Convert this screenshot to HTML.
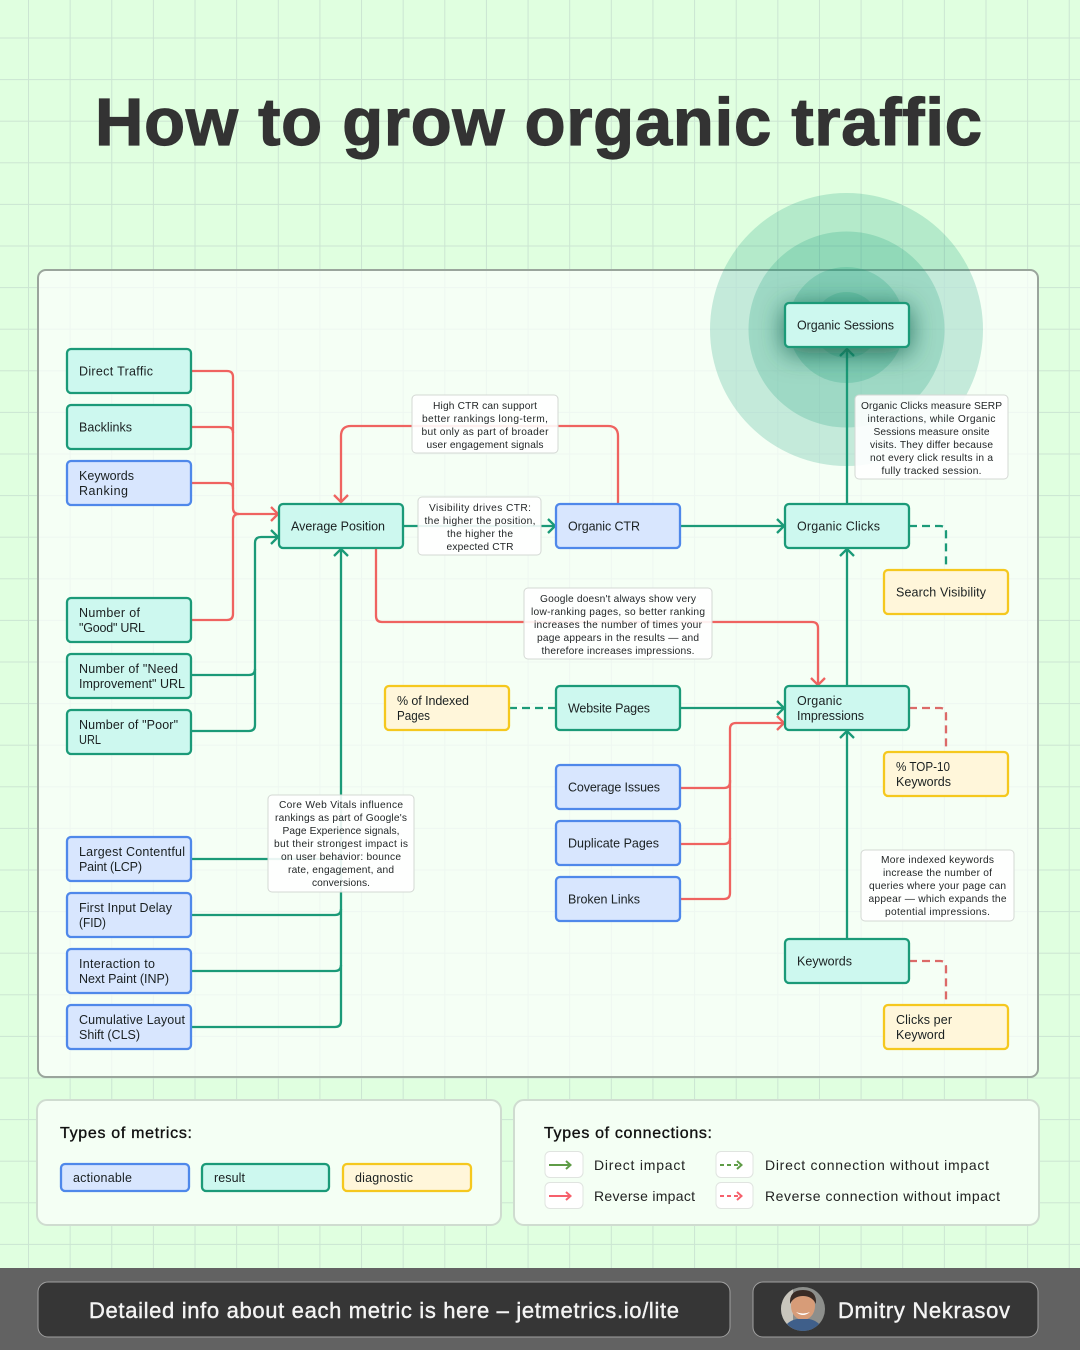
<!DOCTYPE html>
<html><head><meta charset="utf-8"><title>How to grow organic traffic</title>
<style>
html,body{margin:0;padding:0;background:#e0ffe0}
svg{display:block}
text{font-family:"Liberation Sans",sans-serif;fill:#1a2021;font-size:12.5px}
.n text{font-size:12.5px}
.t text{font-size:10.2px;text-anchor:middle;fill:#1f2324}
.a rect{fill:#d8e6fe;stroke:#4f88ea;stroke-width:2.3}
.r rect{fill:#cdf8ef;stroke:#1b9a78;stroke-width:2.3}
.d rect{fill:#fff6da;stroke:#f5c81e;stroke-width:2.3}
.t rect{fill:rgba(255,255,255,.9);stroke:#d4d8d4;stroke-width:1}
.c path{fill:none;stroke-width:2.3;stroke-linecap:butt;stroke-linejoin:round}
.g path{stroke:#1b9a78}.p path{stroke:#ef6360}
.dash{stroke-dasharray:8 5}
.h{font-size:16px;stroke:#111;stroke-width:.35px;fill:#111}
.l{font-size:14px;fill:#222}
</style></head><body>
<svg width="1080" height="1350" viewBox="0 0 1080 1350" xmlns="http://www.w3.org/2000/svg">
<defs>
<pattern id="grid" x="28" y="37.5" width="41.63" height="41.6" patternUnits="userSpaceOnUse">
<rect x="0" y="0" width="1" height="41.6" fill="#cbe5d2"/><rect x="0" y="0" width="41.63" height="1" fill="#cbe5d2"/>
</pattern>
<filter id="sh" x="-60%" y="-120%" width="220%" height="340%"><feDropShadow dx="0" dy="5" stdDeviation="13" flood-color="#0a4f3c" flood-opacity=".75"/></filter>
<clipPath id="av"><circle cx="803" cy="1309" r="22"/></clipPath>
</defs>
<rect width="1080" height="1350" fill="#e0ffe0"/>
<rect width="1080" height="1350" fill="url(#grid)"/>

<text x="95" y="145" textLength="887" style="font-size:67px;font-weight:bold;fill:#333;stroke:#333;stroke-width:1.2px">How to grow organic traffic</text>

<rect x="38" y="270" width="1000" height="807" rx="8" fill="rgba(255,255,255,.68)" stroke="#9aa59c" stroke-width="2"/>

<g fill="#16a07c" fill-opacity=".22">
<circle cx="846.500" cy="329.500" r="136.500"/><circle cx="846.500" cy="329.500" r="98"/><circle cx="846.500" cy="325" r="58"/><circle cx="846.500" cy="325" r="33"/>
</g>

<!-- connectors -->
<g class="c p">
<path d="M191 371H227Q233 371 233 377V508Q233 514 239 514H278"/>
<path d="M191 427H227Q233 427 233 433"/>
<path d="M191 483H227Q233 483 233 489"/>
<path d="M191 620H227Q233 620 233 614V520Q233 514 239 514"/>
<path d="M271 507L278 514L271 521"/>
<path d="M618 504V436Q618 426 608 426H351Q341 426 341 436V502"/>
<path d="M334 495L341 502L348 495"/>
<path d="M376 548V616Q376 622 382 622H812Q818 622 818 628V685"/>
<path d="M811 678L818 685L825 678"/>
<path d="M680 788H724Q730 788 730 782V729Q730 723 736 723H784"/>
<path d="M680 844H724Q730 844 730 838"/>
<path d="M680 899H724Q730 899 730 893V780"/>
<path d="M777 716L784 723L777 730"/>
<path class="dash" d="M909 708H940Q946 708 946 714V752" style="stroke:#dc6a68"/>
<path class="dash" d="M909 961H940Q946 961 946 967V1005" style="stroke:#dc6a68"/>
</g>
<g class="c g">
<path d="M191 675H249Q255 675 255 669"/>
<path d="M191 731H249Q255 731 255 725V543Q255 537 261 537H278"/>
<path d="M271 530L278 537L271 544"/>
<path d="M341 549V1021Q341 1027 335 1027H191"/>
<path d="M334 556L341 549L348 556"/>
<path d="M191 859H341"/>
<path d="M191 915H335Q341 915 341 909"/>
<path d="M191 971H335Q341 971 341 965"/>
<path d="M403 526H555"/><path d="M548 519L555 526L548 533"/>
<path d="M680 526H784"/><path d="M777 519L784 526L777 533"/>
<path d="M847 504V349"/><path d="M840 356L847 349L854 356"/>
<path d="M847 686V549"/><path d="M840 556L847 549L854 556"/>
<path d="M847 939V731"/><path d="M840 738L847 731L854 738"/>
<path d="M680 708H784"/><path d="M777 701L784 708L777 715"/>
<path class="dash" d="M509 708H555"/>
<path class="dash" d="M909 526H940Q946 526 946 532V570"/>
</g>

<!-- notes -->
<g class="t">
<rect x="412" y="395" width="146" height="58" rx="4"/>
<text x="485" y="409" textLength="104">High CTR can support</text>
<text x="485" y="422" textLength="126">better rankings long-term,</text>
<text x="485" y="435" textLength="127">but only as part of broader</text>
<text x="485" y="448" textLength="117">user engagement signals</text>

<rect x="418" y="497" width="123" height="58" rx="4"/>
<text x="480" y="511" textLength="102">Visibility drives CTR:</text>
<text x="480" y="524" textLength="111">the higher the position,</text>
<text x="480" y="537" textLength="66">the higher the</text>
<text x="480" y="550" textLength="67">expected CTR</text>

<rect x="524" y="588" width="188" height="71" rx="4"/>
<text x="618" y="602" textLength="156">Google doesn't always show very</text>
<text x="618" y="615" textLength="174">low-ranking pages, so better ranking</text>
<text x="618" y="628" textLength="168">increases the number of times your</text>
<text x="618" y="641" textLength="162">page appears in the results — and</text>
<text x="618" y="654" textLength="153">therefore increases impressions.</text>

<rect x="268" y="795" width="146" height="97" rx="4"/>
<text x="341" y="808" textLength="124">Core Web Vitals influence</text>
<text x="341" y="821" textLength="132">rankings as part of Google's</text>
<text x="341" y="834" textLength="117">Page Experience signals,</text>
<text x="341" y="847" textLength="134">but their strongest impact is</text>
<text x="341" y="860" textLength="120">on user behavior: bounce</text>
<text x="341" y="873" textLength="106">rate, engagement, and</text>
<text x="341" y="886" textLength="58">conversions.</text>

<rect x="855" y="395" width="153" height="84" rx="4"/>
<text x="931.500" y="409" textLength="141">Organic Clicks measure SERP</text>
<text x="931.500" y="422" textLength="128">interactions, while Organic</text>
<text x="931.500" y="435" textLength="116">Sessions measure onsite</text>
<text x="931.500" y="448" textLength="123">visits. They differ because</text>
<text x="931.500" y="461" textLength="123">not every click results in a</text>
<text x="931.500" y="474" textLength="100">fully tracked session.</text>

<rect x="861" y="850" width="153" height="71" rx="4"/>
<text x="937.500" y="863" textLength="113">More indexed keywords</text>
<text x="937.500" y="876" textLength="109">increase the number of</text>
<text x="937.500" y="889" textLength="137">queries where your page can</text>
<text x="937.500" y="902" textLength="138">appear — which expands the</text>
<text x="937.500" y="915" textLength="105">potential impressions.</text>
</g>

<!-- nodes -->
<g class="n">
<g class="r"><rect x="67" y="349" width="124" height="44" rx="4"/><text x="79" y="375.500" textLength="74">Direct Traffic</text></g>
<g class="r"><rect x="67" y="405" width="124" height="44" rx="4"/><text x="79" y="431.500" textLength="53">Backlinks</text></g>
<g class="a"><rect x="67" y="461" width="124" height="44" rx="4"/><text x="79" y="480" textLength="55">Keywords</text><text x="79" y="495" textLength="49">Ranking</text></g>
<g class="r"><rect x="67" y="598" width="124" height="44" rx="4"/><text x="79" y="617" textLength="61">Number of</text><text x="79" y="632" textLength="66">"Good" URL</text></g>
<g class="r"><rect x="67" y="654" width="124" height="44" rx="4"/><text x="79" y="673" textLength="99">Number of "Need</text><text x="79" y="688" textLength="106">Improvement" URL</text></g>
<g class="r"><rect x="67" y="710" width="124" height="44" rx="4"/><text x="79" y="729" textLength="99">Number of "Poor"</text><text x="79" y="744" textLength="22" lengthAdjust="spacingAndGlyphs">URL</text></g>
<g class="a"><rect x="67" y="837" width="124" height="44" rx="4"/><text x="79" y="856" textLength="106">Largest Contentful</text><text x="79" y="871" textLength="63">Paint (LCP)</text></g>
<g class="a"><rect x="67" y="893" width="124" height="44" rx="4"/><text x="79" y="912" textLength="93">First Input Delay</text><text x="79" y="927" textLength="27" lengthAdjust="spacingAndGlyphs">(FID)</text></g>
<g class="a"><rect x="67" y="949" width="124" height="44" rx="4"/><text x="79" y="968" textLength="76">Interaction to</text><text x="79" y="983" textLength="90">Next Paint (INP)</text></g>
<g class="a"><rect x="67" y="1005" width="124" height="44" rx="4"/><text x="79" y="1024" textLength="106">Cumulative Layout</text><text x="79" y="1039" textLength="61">Shift (CLS)</text></g>

<g class="r"><rect x="279" y="504" width="124" height="44" rx="4"/><text x="291" y="530.500" textLength="94">Average Position</text></g>
<g class="a"><rect x="556" y="504" width="124" height="44" rx="4"/><text x="568" y="530.500" textLength="72">Organic CTR</text></g>
<g class="r"><rect x="785" y="504" width="124" height="44" rx="4"/><text x="797" y="530.500" textLength="83">Organic Clicks</text></g>
<g class="r"><rect x="785" y="303" width="124" height="44" rx="4" filter="url(#sh)"/><text x="797" y="329.500" textLength="97">Organic Sessions</text></g>
<g class="d"><rect x="884" y="570" width="124" height="44" rx="4"/><text x="896" y="596.500" textLength="90">Search Visibility</text></g>
<g class="r"><rect x="785" y="686" width="124" height="44" rx="4"/><text x="797" y="705" textLength="45">Organic</text><text x="797" y="720" textLength="67">Impressions</text></g>
<g class="d"><rect x="385" y="686" width="124" height="44" rx="4"/><text x="397" y="705" textLength="72">% of Indexed</text><text x="397" y="720" textLength="33" lengthAdjust="spacingAndGlyphs">Pages</text></g>
<g class="r"><rect x="556" y="686" width="124" height="44" rx="4"/><text x="568" y="712.500" textLength="82">Website Pages</text></g>
<g class="a"><rect x="556" y="765" width="124" height="44" rx="4"/><text x="568" y="791.500" textLength="92">Coverage Issues</text></g>
<g class="a"><rect x="556" y="821" width="124" height="44" rx="4"/><text x="568" y="847.500" textLength="91">Duplicate Pages</text></g>
<g class="a"><rect x="556" y="877" width="124" height="44" rx="4"/><text x="568" y="903.500" textLength="72">Broken Links</text></g>
<g class="d"><rect x="884" y="752" width="124" height="44" rx="4"/><text x="896" y="771" textLength="54" lengthAdjust="spacingAndGlyphs">% TOP-10</text><text x="896" y="786" textLength="55">Keywords</text></g>
<g class="r"><rect x="785" y="939" width="124" height="44" rx="4"/><text x="797" y="965.500" textLength="55">Keywords</text></g>
<g class="d"><rect x="884" y="1005" width="124" height="44" rx="4"/><text x="896" y="1024" textLength="56">Clicks per</text><text x="896" y="1039" textLength="49">Keyword</text></g>
</g>

<!-- legends -->
<rect x="37" y="1100" width="464" height="125" rx="10" fill="#f4fff4" stroke="#cfdcd0" stroke-width="2"/>
<rect x="514" y="1100" width="525" height="125" rx="10" fill="#f4fff4" stroke="#cfdcd0" stroke-width="2"/>
<text class="h" x="60" y="1138" textLength="132">Types of metrics:</text>
<g class="n">
<g class="a"><rect x="61" y="1164" width="128" height="27" rx="4"/><text x="73" y="1182" textLength="59">actionable</text></g>
<g class="r"><rect x="202" y="1164" width="127" height="27" rx="4"/><text x="214" y="1182" textLength="31">result</text></g>
<g class="d"><rect x="343" y="1164" width="128" height="27" rx="4"/><text x="355" y="1182" textLength="58">diagnostic</text></g>
</g>
<text class="h" x="544" y="1138" textLength="168">Types of connections:</text>
<g fill="#fff" stroke="#e0e4e0">
<rect x="545" y="1151.500" width="38" height="26" rx="5"/><rect x="545" y="1182.500" width="38" height="26" rx="5"/>
<rect x="716" y="1151.500" width="37" height="26" rx="5"/><rect x="716" y="1182.500" width="37" height="26" rx="5"/>
</g>
<g fill="none" stroke-width="2">
<path d="M549 1165H570M566 1161L570.500 1165L566 1169" stroke="#5f9c47"/>
<path d="M549 1196H570M566 1192L570.500 1196L566 1200" stroke="#f6606c"/>
<path d="M720 1165H741" stroke="#5f9c47" stroke-dasharray="4 3"/>
<path d="M737 1161L741.500 1165L737 1169" stroke="#5f9c47"/>
<path d="M720 1196H741" stroke="#f6606c" stroke-dasharray="4 3"/>
<path d="M737 1192L741.500 1196L737 1200" stroke="#f6606c"/>
</g>
<text class="l" x="594" y="1170" textLength="91">Direct impact</text>
<text class="l" x="594" y="1201" textLength="101">Reverse impact</text>
<text class="l" x="765" y="1170" textLength="224">Direct connection without impact</text>
<text class="l" x="765" y="1201" textLength="235">Reverse connection without impact</text>

<!-- footer -->
<rect x="0" y="1268" width="1080" height="82" fill="#626262"/>
<rect x="38" y="1282" width="692" height="55" rx="10" fill="#363636" stroke="#a0a0a0"/>
<rect x="753" y="1282" width="285" height="55" rx="10" fill="#363636" stroke="#a0a0a0"/>
<text x="89" y="1318" textLength="590" style="font-size:22px;fill:#f4f4f4;stroke:#f4f4f4;stroke-width:.4px">Detailed info about each metric is here – jetmetrics.io/lite</text>
<text x="838" y="1318" textLength="172" style="font-size:22px;fill:#f4f4f4;stroke:#f4f4f4;stroke-width:.4px">Dmitry Nekrasov</text>
<g clip-path="url(#av)">
<rect x="781" y="1287" width="44" height="44" fill="#8d8f8c"/>
<rect x="781" y="1287" width="12" height="44" fill="#c9c6bd"/>
<ellipse cx="803" cy="1306" rx="12" ry="14" fill="#d79c78"/>
<path d="M790 1304Q789 1290 803 1290Q817 1290 816 1304Q812 1296 803 1296Q794 1296 790 1304Z" fill="#3a2c26"/>
<path d="M796 1312Q803 1318 810 1312Q803 1315 796 1312Z" fill="#fff"/>
<path d="M783 1331Q786 1321 797 1319H809Q820 1321 823 1331Z" fill="#3f5f8a"/>
</g>
</svg>
</body></html>
